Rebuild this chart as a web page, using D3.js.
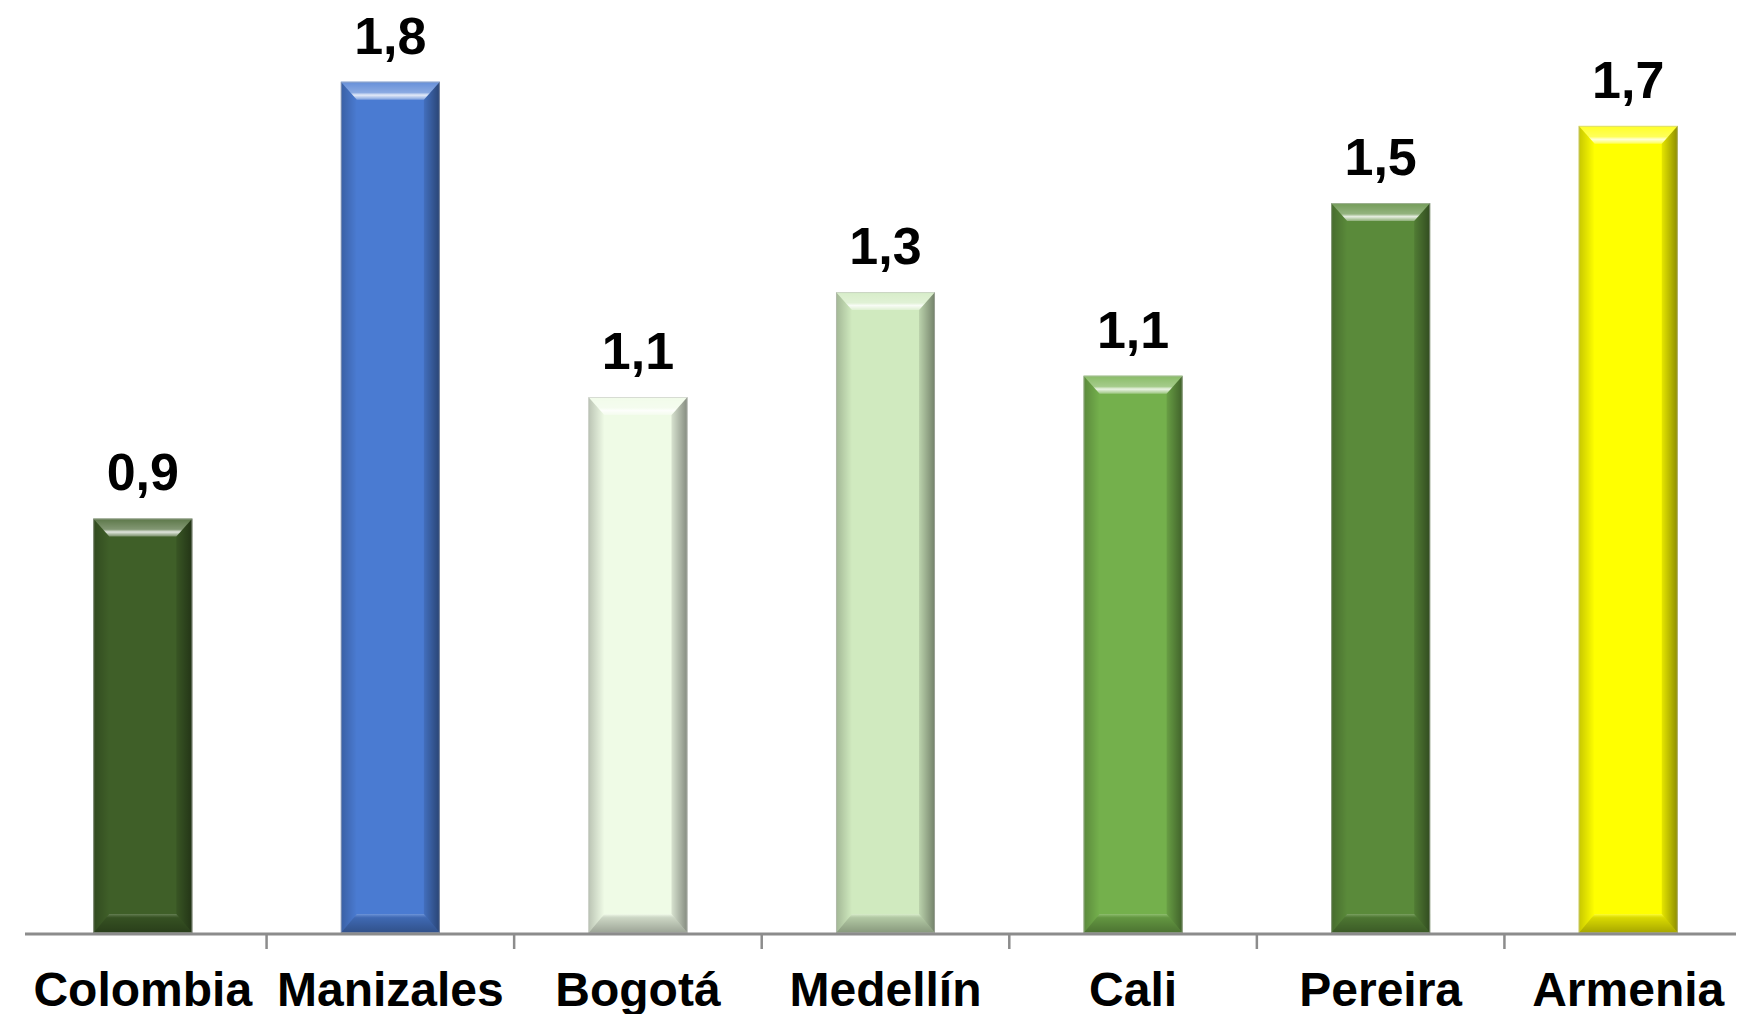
<!DOCTYPE html>
<html>
<head>
<meta charset="utf-8">
<title>Ciudades</title>
<style>
  body { margin: 0; background: #fff; }
  text { font-family: "Liberation Sans", Arial, sans-serif; font-weight: bold; fill: #000; }
</style>
<script src="https://d3js.org/d3.v7.min.js"></script>
</head>
<body>
<svg width="1760" height="1014"></svg>
<script>
var cities = ["Colombia", "Manizales", "Bogotá", "Medellín", "Cali", "Pereira", "Armenia"];
var values = [0.853, 1.752, 1.103, 1.319, 1.147, 1.502, 1.661];
var colors = ["#3f5f28", "#4a7bd2", "#effbe6", "#d0eabf", "#74b04c", "#5a8a3a", "#ffff00"];

var svg = d3.select("svg");
var base = 933;

var x = d3.scaleBand().domain(cities).range([19, 1752]);
var y = d3.scaleLinear().domain([0, 1.92]).range([base, 0]);

var barW = x.bandwidth() * 0.4;
var bs = 16, bt = 18, bb = 19; // bevel sizes

var defs = svg.append("defs");
var gl = defs.append("linearGradient").attr("id", "gl");
gl.append("stop").attr("offset", 0).attr("stop-color", "#000").attr("stop-opacity", 0.22);
gl.append("stop").attr("offset", 1).attr("stop-color", "#000").attr("stop-opacity", 0.0);
var gr = defs.append("linearGradient").attr("id", "gr");
gr.append("stop").attr("offset", 0).attr("stop-color", "#000").attr("stop-opacity", 0.1);
gr.append("stop").attr("offset", 1).attr("stop-color", "#000").attr("stop-opacity", 0.45);
var gt = defs.append("linearGradient").attr("id", "gt").attr("x1", 0).attr("y1", 0).attr("x2", 0).attr("y2", 1);
gt.append("stop").attr("offset", 0).attr("stop-color", "#fff").attr("stop-opacity", 0.15);
gt.append("stop").attr("offset", 0.6).attr("stop-color", "#fff").attr("stop-opacity", 0.35);
gt.append("stop").attr("offset", 0.75).attr("stop-color", "#fff").attr("stop-opacity", 0.85);
gt.append("stop").attr("offset", 1).attr("stop-color", "#fff").attr("stop-opacity", 0.3);
var gb = defs.append("linearGradient").attr("id", "gb").attr("x1", 0).attr("y1", 0).attr("x2", 0).attr("y2", 1);
gb.append("stop").attr("offset", 0).attr("stop-color", "#fff").attr("stop-opacity", 0.2);
gb.append("stop").attr("offset", 0.2).attr("stop-color", "#000").attr("stop-opacity", 0.15);
gb.append("stop").attr("offset", 1).attr("stop-color", "#000").attr("stop-opacity", 0.35);

var bars = svg.selectAll(".bar")
  .data(cities)
  .enter().append("g")
  .attr("class", "bar")
  .attr("transform", function(d) { return "translate(" + (x(d) + (x.bandwidth() - barW) / 2) + ",0)"; });

function barTop(i) { return y(values[i]); }

bars.append("rect")
  .attr("x", 0)
  .attr("y", function(d, i) { return barTop(i); })
  .attr("width", barW)
  .attr("height", function(d, i) { return base - barTop(i); })
  .attr("fill", function(d, i) { return colors[i]; });

// left bevel
bars.append("path")
  .attr("fill", "url(#gl)")
  .attr("d", function(d, i) {
    var t = barTop(i);
    return "M0," + t + "L" + bs + "," + (t + bt) + "L" + bs + "," + (base - bb) + "L0," + base + "Z";
  });
// right bevel
bars.append("path")
  .attr("fill", "url(#gr)")
  .attr("d", function(d, i) {
    var t = barTop(i);
    return "M" + barW + "," + t + "L" + (barW - bs) + "," + (t + bt) + "L" + (barW - bs) + "," + (base - bb) + "L" + barW + "," + base + "Z";
  });
// top bevel
bars.append("path")
  .attr("fill", "url(#gt)")
  .attr("d", function(d, i) {
    var t = barTop(i);
    return "M0," + t + "L" + barW + "," + t + "L" + (barW - bs) + "," + (t + bt) + "L" + bs + "," + (t + bt) + "Z";
  });
// bottom bevel
bars.append("path")
  .attr("fill", "url(#gb)")
  .attr("d", function(d, i) {
    return "M0," + base + "L" + barW + "," + base + "L" + (barW - bs) + "," + (base - bb) + "L" + bs + "," + (base - bb) + "Z";
  });
// thin edge
bars.append("rect")
  .attr("x", 0.5)
  .attr("y", function(d, i) { return barTop(i) + 0.5; })
  .attr("width", barW - 1)
  .attr("height", function(d, i) { return base - barTop(i) - 1; })
  .attr("fill", "none")
  .attr("stroke", "rgba(190,190,190,0.5)")
  .attr("stroke-width", 1);

// value labels
svg.selectAll(".val")
  .data(cities)
  .enter().append("text")
  .attr("class", "val")
  .attr("x", function(d) { return x(d) + x.bandwidth() / 2; })
  .attr("y", function(d, i) { return barTop(i) - 28; })
  .attr("text-anchor", "middle")
  .style("font-size", "52px")
  .text(function(d, i) { return values[i].toFixed(1).replace(".", ","); });

// axis line and ticks between categories
svg.append("line")
  .attr("x1", 25).attr("x2", 1736)
  .attr("y1", base + 1).attr("y2", base + 1)
  .attr("stroke", "#8c8c8c").attr("stroke-width", 3);

svg.selectAll(".tk")
  .data(cities.slice(1))
  .enter().append("line")
  .attr("class", "tk")
  .attr("x1", function(d) { return x(d); })
  .attr("x2", function(d) { return x(d); })
  .attr("y1", base).attr("y2", base + 16)
  .attr("stroke", "#8c8c8c").attr("stroke-width", 2.5);

var ax = svg.append("g")
  .attr("transform", "translate(0," + base + ")")
  .call(d3.axisBottom(x).tickSize(0).tickPadding(39));
ax.select(".domain").remove();
ax.selectAll("text")
  .style("font-size", "48px")
  .style("font-family", "'Liberation Sans', Arial, sans-serif")
  .style("font-weight", "bold")
  .attr("fill", "#000");
</script>
</body>
</html>
